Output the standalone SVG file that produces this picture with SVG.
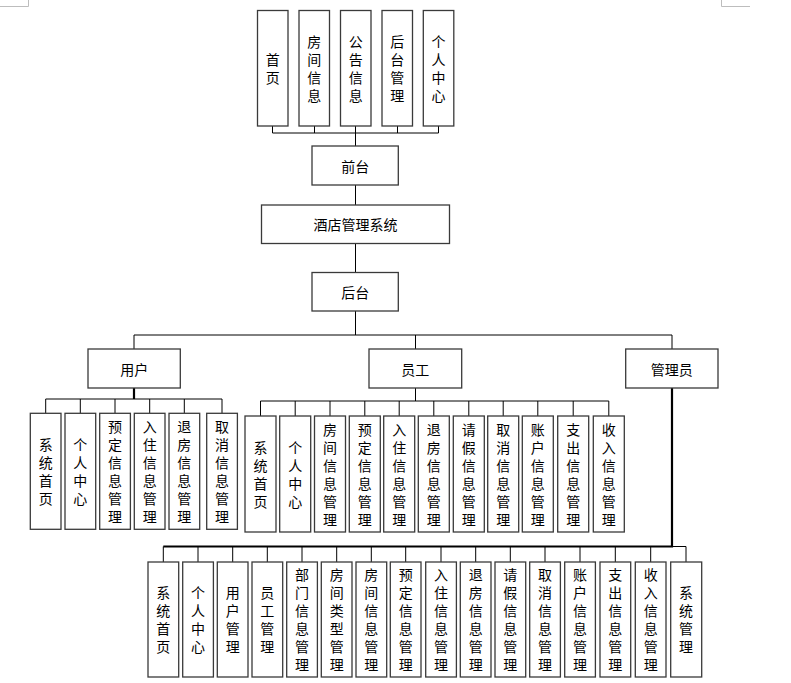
<svg xmlns="http://www.w3.org/2000/svg" width="791" height="683" viewBox="0 0 791 683">
<style>
.box{fill:#fff;stroke:#3a3a3a;stroke-width:1.3}
.t{font-family:"Noto Sans CJK SC","Noto Sans CJK JP",sans-serif;font-size:14px;text-anchor:middle;dominant-baseline:central;fill:#000}
.ln{stroke:#000;stroke-width:1;fill:none}
.thk{stroke:#000;stroke-width:2.2;fill:none}
.mark{stroke:#bdbdbd;stroke-width:1;fill:none}
</style>
<rect width="791" height="683" fill="#fff"/>
<path class="mark" d="M0 6.5H28.5V0M721.5 0V6.5H750"/>
<g id="connectors">
<path class="ln" d="M272.5 126V133H438.5V126M314.5 126V133M355.5 126V146M397.5 126V133M355.5 185V205M355.5 243V272M355.5 311V335"/>
<path class="ln" d="M134 349V335H672M415.5 335V349M672 335V349"/>
<path class="thk" d="M134 388V399"/>
<path class="ln" d="M45.7 413V399H222V413M80.3 399V413M115 399V413M149.7 399V413M184.3 399V413"/>
<path class="ln" d="M415.5 388V401M260.5 416V401H608.8V416M295.2 401V416M330 401V416M364.8 401V416M399.2 401V416M433.8 401V416M468.8 401V416M503.2 401V416M537.8 401V416M573.2 401V416"/>
<path class="thk" d="M672 388V546.5H163.3"/>
<path class="ln" d="M163.3 546.5V562M672 546.5H686V562M198 546.5V562M232.7 546.5V562M267.3 546.5V562M302 546.5V562M336.7 546.5V562M371.3 546.5V562M405.7 546.5V562M441 546.5V562M475.7 546.5V562M510.3 546.5V562M545 546.5V562M580 546.5V562M615.3 546.5V562M650.7 546.5V562"/>
</g>
<g id="top-shouye"><rect class="box" x="257.5" y="10.5" width="30.5" height="115.5"/><text class="t"><tspan x="272.7" y="59">首</tspan><tspan x="272.7" y="77">页</tspan></text></g>
<g id="top-fangjian"><rect class="box" x="299" y="10.5" width="30.5" height="115.5"/><text class="t"><tspan x="314.3" y="41">房</tspan><tspan x="314.3" y="59">间</tspan><tspan x="314.3" y="77">信</tspan><tspan x="314.3" y="95">息</tspan></text></g>
<g id="top-gonggao"><rect class="box" x="340.5" y="10.5" width="30.5" height="115.5"/><text class="t"><tspan x="355.7" y="41">公</tspan><tspan x="355.7" y="59">告</tspan><tspan x="355.7" y="77">信</tspan><tspan x="355.7" y="95">息</tspan></text></g>
<g id="top-houtai"><rect class="box" x="382" y="10.5" width="30.5" height="115.5"/><text class="t"><tspan x="397.2" y="41">后</tspan><tspan x="397.2" y="59">台</tspan><tspan x="397.2" y="77">管</tspan><tspan x="397.2" y="95">理</tspan></text></g>
<g id="top-geren"><rect class="box" x="423.3" y="10.5" width="30.5" height="115.5"/><text class="t"><tspan x="438.5" y="41">个</tspan><tspan x="438.5" y="59">人</tspan><tspan x="438.5" y="77">中</tspan><tspan x="438.5" y="95">心</tspan></text></g>
<g id="qiantai"><rect class="box" x="312" y="146" width="86.3" height="39"/><text class="t" x="355.2" y="165.5">前台</text></g>
<g id="system"><rect class="box" x="261.5" y="205" width="188" height="38.5"/><text class="t" x="355.5" y="224.2">酒店管理系统</text></g>
<g id="houtai"><rect class="box" x="312" y="272.5" width="86.3" height="38.5"/><text class="t" x="355.2" y="291.7">后台</text></g>
<g id="yonghu"><rect class="box" x="88" y="349" width="92.3" height="39"/><text class="t" x="134.2" y="368.5">用户</text></g>
<g id="yuangong"><rect class="box" x="369" y="349" width="92.7" height="39"/><text class="t" x="415.3" y="368.5">员工</text></g>
<g id="guanliyuan"><rect class="box" x="625.7" y="349" width="92.3" height="39"/><text class="t" x="671.8" y="368.5">管理员</text></g>
<g id="u1"><rect class="box" x="30.3" y="413.3" width="30.7" height="116"/><text class="t"><tspan x="45.7" y="444">系</tspan><tspan x="45.7" y="462">统</tspan><tspan x="45.7" y="480">首</tspan><tspan x="45.7" y="498">页</tspan></text></g>
<g id="u2"><rect class="box" x="65" y="413.3" width="30.7" height="116"/><text class="t"><tspan x="80.3" y="444">个</tspan><tspan x="80.3" y="462">人</tspan><tspan x="80.3" y="480">中</tspan><tspan x="80.3" y="498">心</tspan></text></g>
<g id="u3"><rect class="box" x="99.7" y="413.3" width="30.7" height="116"/><text class="t"><tspan x="115" y="426">预</tspan><tspan x="115" y="444">定</tspan><tspan x="115" y="462">信</tspan><tspan x="115" y="480">息</tspan><tspan x="115" y="498">管</tspan><tspan x="115" y="516">理</tspan></text></g>
<g id="u4"><rect class="box" x="134.3" y="413.3" width="30.7" height="116"/><text class="t"><tspan x="149.7" y="426">入</tspan><tspan x="149.7" y="444">住</tspan><tspan x="149.7" y="462">信</tspan><tspan x="149.7" y="480">息</tspan><tspan x="149.7" y="498">管</tspan><tspan x="149.7" y="516">理</tspan></text></g>
<g id="u5"><rect class="box" x="169" y="413.3" width="30.7" height="116"/><text class="t"><tspan x="184.3" y="426">退</tspan><tspan x="184.3" y="444">房</tspan><tspan x="184.3" y="462">信</tspan><tspan x="184.3" y="480">息</tspan><tspan x="184.3" y="498">管</tspan><tspan x="184.3" y="516">理</tspan></text></g>
<g id="u6"><rect class="box" x="206.7" y="413.3" width="30.7" height="116"/><text class="t"><tspan x="222" y="426">取</tspan><tspan x="222" y="444">消</tspan><tspan x="222" y="462">信</tspan><tspan x="222" y="480">息</tspan><tspan x="222" y="498">管</tspan><tspan x="222" y="516">理</tspan></text></g>
<g id="s1"><rect class="box" x="245" y="416" width="31" height="116"/><text class="t"><tspan x="260.5" y="447">系</tspan><tspan x="260.5" y="465">统</tspan><tspan x="260.5" y="483">首</tspan><tspan x="260.5" y="501">页</tspan></text></g>
<g id="s2"><rect class="box" x="279.7" y="416" width="31" height="116"/><text class="t"><tspan x="295.2" y="447">个</tspan><tspan x="295.2" y="465">人</tspan><tspan x="295.2" y="483">中</tspan><tspan x="295.2" y="501">心</tspan></text></g>
<g id="s3"><rect class="box" x="314.5" y="416" width="31" height="116"/><text class="t"><tspan x="330" y="429">房</tspan><tspan x="330" y="447">间</tspan><tspan x="330" y="465">信</tspan><tspan x="330" y="483">息</tspan><tspan x="330" y="501">管</tspan><tspan x="330" y="519">理</tspan></text></g>
<g id="s4"><rect class="box" x="349.3" y="416" width="31" height="116"/><text class="t"><tspan x="364.8" y="429">预</tspan><tspan x="364.8" y="447">定</tspan><tspan x="364.8" y="465">信</tspan><tspan x="364.8" y="483">息</tspan><tspan x="364.8" y="501">管</tspan><tspan x="364.8" y="519">理</tspan></text></g>
<g id="s5"><rect class="box" x="383.7" y="416" width="31" height="116"/><text class="t"><tspan x="399.2" y="429">入</tspan><tspan x="399.2" y="447">住</tspan><tspan x="399.2" y="465">信</tspan><tspan x="399.2" y="483">息</tspan><tspan x="399.2" y="501">管</tspan><tspan x="399.2" y="519">理</tspan></text></g>
<g id="s6"><rect class="box" x="418.3" y="416" width="31" height="116"/><text class="t"><tspan x="433.8" y="429">退</tspan><tspan x="433.8" y="447">房</tspan><tspan x="433.8" y="465">信</tspan><tspan x="433.8" y="483">息</tspan><tspan x="433.8" y="501">管</tspan><tspan x="433.8" y="519">理</tspan></text></g>
<g id="s7"><rect class="box" x="453.3" y="416" width="31" height="116"/><text class="t"><tspan x="468.8" y="429">请</tspan><tspan x="468.8" y="447">假</tspan><tspan x="468.8" y="465">信</tspan><tspan x="468.8" y="483">息</tspan><tspan x="468.8" y="501">管</tspan><tspan x="468.8" y="519">理</tspan></text></g>
<g id="s8"><rect class="box" x="487.7" y="416" width="31" height="116"/><text class="t"><tspan x="503.2" y="429">取</tspan><tspan x="503.2" y="447">消</tspan><tspan x="503.2" y="465">信</tspan><tspan x="503.2" y="483">息</tspan><tspan x="503.2" y="501">管</tspan><tspan x="503.2" y="519">理</tspan></text></g>
<g id="s9"><rect class="box" x="522.3" y="416" width="31" height="116"/><text class="t"><tspan x="537.8" y="429">账</tspan><tspan x="537.8" y="447">户</tspan><tspan x="537.8" y="465">信</tspan><tspan x="537.8" y="483">息</tspan><tspan x="537.8" y="501">管</tspan><tspan x="537.8" y="519">理</tspan></text></g>
<g id="s10"><rect class="box" x="557.7" y="416" width="31" height="116"/><text class="t"><tspan x="573.2" y="429">支</tspan><tspan x="573.2" y="447">出</tspan><tspan x="573.2" y="465">信</tspan><tspan x="573.2" y="483">息</tspan><tspan x="573.2" y="501">管</tspan><tspan x="573.2" y="519">理</tspan></text></g>
<g id="s11"><rect class="box" x="593.3" y="416" width="31" height="116"/><text class="t"><tspan x="608.8" y="429">收</tspan><tspan x="608.8" y="447">入</tspan><tspan x="608.8" y="465">信</tspan><tspan x="608.8" y="483">息</tspan><tspan x="608.8" y="501">管</tspan><tspan x="608.8" y="519">理</tspan></text></g>
<g id="a1"><rect class="box" x="148" y="562" width="30.7" height="115"/><text class="t"><tspan x="163.3" y="592">系</tspan><tspan x="163.3" y="610">统</tspan><tspan x="163.3" y="628">首</tspan><tspan x="163.3" y="646">页</tspan></text></g>
<g id="a2"><rect class="box" x="182.7" y="562" width="30.7" height="115"/><text class="t"><tspan x="198" y="592">个</tspan><tspan x="198" y="610">人</tspan><tspan x="198" y="628">中</tspan><tspan x="198" y="646">心</tspan></text></g>
<g id="a3"><rect class="box" x="217.3" y="562" width="30.7" height="115"/><text class="t"><tspan x="232.7" y="592">用</tspan><tspan x="232.7" y="610">户</tspan><tspan x="232.7" y="628">管</tspan><tspan x="232.7" y="646">理</tspan></text></g>
<g id="a4"><rect class="box" x="252" y="562" width="30.7" height="115"/><text class="t"><tspan x="267.3" y="592">员</tspan><tspan x="267.3" y="610">工</tspan><tspan x="267.3" y="628">管</tspan><tspan x="267.3" y="646">理</tspan></text></g>
<g id="a5"><rect class="box" x="286.7" y="562" width="30.7" height="115"/><text class="t"><tspan x="302" y="574">部</tspan><tspan x="302" y="592">门</tspan><tspan x="302" y="610">信</tspan><tspan x="302" y="628">息</tspan><tspan x="302" y="646">管</tspan><tspan x="302" y="664">理</tspan></text></g>
<g id="a6"><rect class="box" x="321.3" y="562" width="30.7" height="115"/><text class="t"><tspan x="336.7" y="574">房</tspan><tspan x="336.7" y="592">间</tspan><tspan x="336.7" y="610">类</tspan><tspan x="336.7" y="628">型</tspan><tspan x="336.7" y="646">管</tspan><tspan x="336.7" y="664">理</tspan></text></g>
<g id="a7"><rect class="box" x="356" y="562" width="30.7" height="115"/><text class="t"><tspan x="371.3" y="574">房</tspan><tspan x="371.3" y="592">间</tspan><tspan x="371.3" y="610">信</tspan><tspan x="371.3" y="628">息</tspan><tspan x="371.3" y="646">管</tspan><tspan x="371.3" y="664">理</tspan></text></g>
<g id="a8"><rect class="box" x="390.3" y="562" width="30.7" height="115"/><text class="t"><tspan x="405.7" y="574">预</tspan><tspan x="405.7" y="592">定</tspan><tspan x="405.7" y="610">信</tspan><tspan x="405.7" y="628">息</tspan><tspan x="405.7" y="646">管</tspan><tspan x="405.7" y="664">理</tspan></text></g>
<g id="a9"><rect class="box" x="425.7" y="562" width="30.7" height="115"/><text class="t"><tspan x="441" y="574">入</tspan><tspan x="441" y="592">住</tspan><tspan x="441" y="610">信</tspan><tspan x="441" y="628">息</tspan><tspan x="441" y="646">管</tspan><tspan x="441" y="664">理</tspan></text></g>
<g id="a10"><rect class="box" x="460.3" y="562" width="30.7" height="115"/><text class="t"><tspan x="475.7" y="574">退</tspan><tspan x="475.7" y="592">房</tspan><tspan x="475.7" y="610">信</tspan><tspan x="475.7" y="628">息</tspan><tspan x="475.7" y="646">管</tspan><tspan x="475.7" y="664">理</tspan></text></g>
<g id="a11"><rect class="box" x="495" y="562" width="30.7" height="115"/><text class="t"><tspan x="510.3" y="574">请</tspan><tspan x="510.3" y="592">假</tspan><tspan x="510.3" y="610">信</tspan><tspan x="510.3" y="628">息</tspan><tspan x="510.3" y="646">管</tspan><tspan x="510.3" y="664">理</tspan></text></g>
<g id="a12"><rect class="box" x="529.7" y="562" width="30.7" height="115"/><text class="t"><tspan x="545" y="574">取</tspan><tspan x="545" y="592">消</tspan><tspan x="545" y="610">信</tspan><tspan x="545" y="628">息</tspan><tspan x="545" y="646">管</tspan><tspan x="545" y="664">理</tspan></text></g>
<g id="a13"><rect class="box" x="564.7" y="562" width="30.7" height="115"/><text class="t"><tspan x="580" y="574">账</tspan><tspan x="580" y="592">户</tspan><tspan x="580" y="610">信</tspan><tspan x="580" y="628">息</tspan><tspan x="580" y="646">管</tspan><tspan x="580" y="664">理</tspan></text></g>
<g id="a14"><rect class="box" x="600" y="562" width="30.7" height="115"/><text class="t"><tspan x="615.3" y="574">支</tspan><tspan x="615.3" y="592">出</tspan><tspan x="615.3" y="610">信</tspan><tspan x="615.3" y="628">息</tspan><tspan x="615.3" y="646">管</tspan><tspan x="615.3" y="664">理</tspan></text></g>
<g id="a15"><rect class="box" x="635.3" y="562" width="30.7" height="115"/><text class="t"><tspan x="650.7" y="574">收</tspan><tspan x="650.7" y="592">入</tspan><tspan x="650.7" y="610">信</tspan><tspan x="650.7" y="628">息</tspan><tspan x="650.7" y="646">管</tspan><tspan x="650.7" y="664">理</tspan></text></g>
<g id="a16"><rect class="box" x="670.7" y="562" width="31" height="115"/><text class="t"><tspan x="686" y="592">系</tspan><tspan x="686" y="610">统</tspan><tspan x="686" y="628">管</tspan><tspan x="686" y="646">理</tspan></text></g>
</svg>
